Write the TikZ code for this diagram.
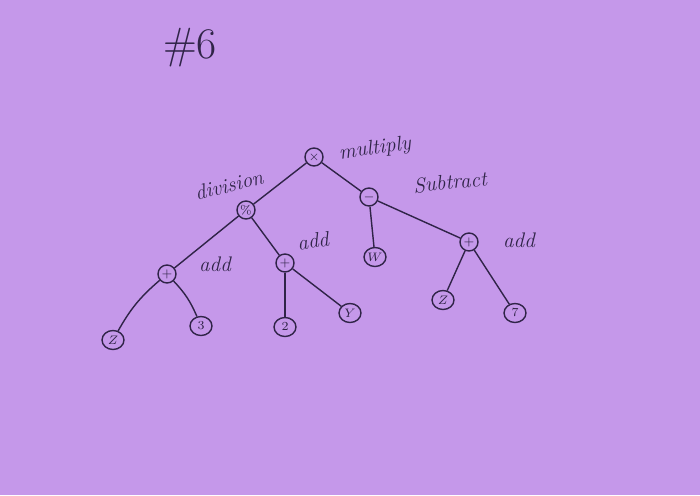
\documentclass[tikz,border=0pt]{standalone}
\usepackage{amsmath}
\usetikzlibrary{shapes.geometric}
\definecolor{paper}{RGB}{197,152,234}
\definecolor{ink}{RGB}{48,36,72}

\begin{document}
\begin{tikzpicture}[x=0.02cm,y=-0.02cm,
  op/.style={draw=ink,thick,circle,inner sep=0pt,minimum size=0.36cm,font=\scriptsize,text=ink},
  leaf/.style={draw=ink,thick,ellipse,inner sep=0pt,minimum width=0.44cm,minimum height=0.38cm,font=\scriptsize,text=ink},
  lbl/.style={text=ink,font=\large\itshape,inner sep=0pt},
  edge/.style={draw=ink,thick}]
\fill[paper] (0,0) rectangle (700,495);
\useasboundingbox (0,0) rectangle (700,495);

\node[text=ink,font=\Huge] (title) at (190,48) {\#6};

% operators
\node[op] (mul) at (314,157) {$\times$};
\node[op] (dvs) at (246,210) {\%};
\node[op] (sub) at (369,197) {$-$};
\node[op] (addl) at (167,274) {$+$};
\node[op] (addm) at (285,263) {$+$};
\node[op] (addr) at (469,242) {$+$};

% operands
\node[leaf] (z1) at (113,340) {$Z$};
\node[leaf] (n3) at (201,326) {$3$};
\node[leaf] (n2) at (285,327) {$2$};
\node[leaf] (y) at (350,313) {$Y$};
\node[leaf] (w) at (375,257) {$W$};
\node[leaf] (z2) at (443,300) {$Z$};
\node[leaf] (n7) at (515,313) {$7$};

% labels
\node[lbl,rotate=8] (lmul) at (375,149) {multiply};
\node[lbl,rotate=14] (ldvs) at (229,185) {division};
\node[lbl,rotate=6] (lsub) at (450,182) {Subtract};
\node[lbl] (laddl) at (215,264) {add};
\node[lbl,rotate=8] (laddm) at (313,241) {add};
\node[lbl] (laddr) at (519,240) {add};

% edges
\draw[edge] (mul) -- (dvs);
\draw[edge] (mul) -- (sub);
\draw[edge] (dvs) -- (addl);
\draw[edge] (dvs) -- (addm);
\draw[edge] (sub) -- (w);
\draw[edge] (sub) -- (addr);
\draw[edge] (addl) to[bend right=10] (z1);
\draw[edge] (addl) to[bend left=10] (n3);
\draw[edge] (addm) -- (n2);
\draw[edge] (addm) -- (y);
\draw[edge] (addr) -- (z2);
\draw[edge] (addr) -- (n7);
\end{tikzpicture}
\end{document}
